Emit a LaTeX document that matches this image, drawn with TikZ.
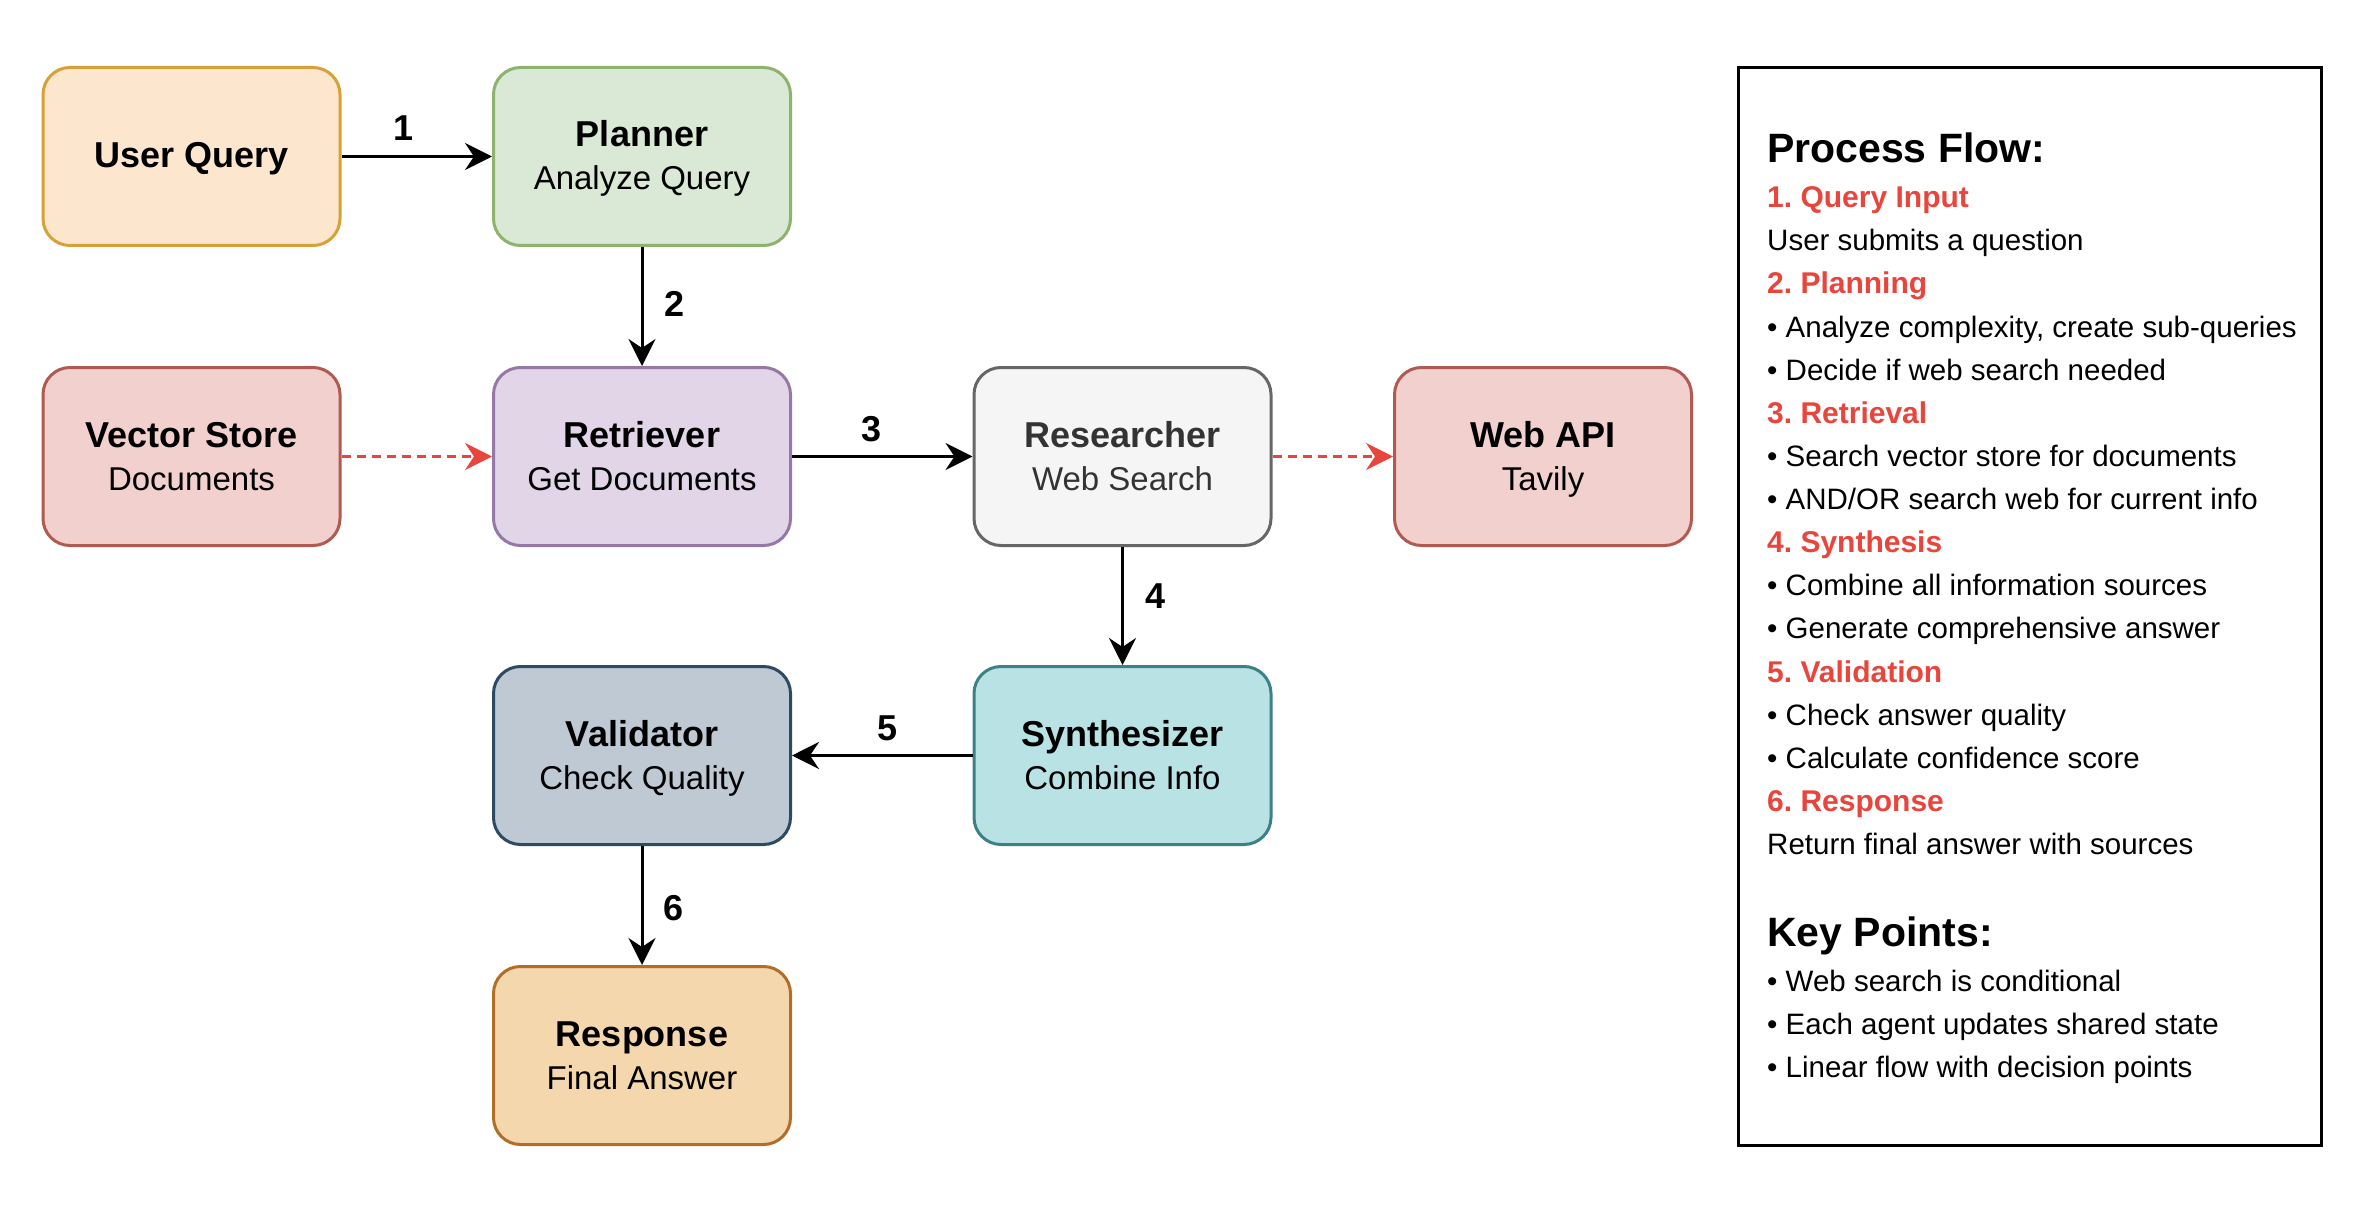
\documentclass[tikz,border=0pt]{standalone}
\usepackage{fontspec}
\setmainfont{Liberation Sans}
\usetikzlibrary{arrows.meta}
\frenchspacing
\definecolor{uqF}{HTML}{FCE6CE}\definecolor{uqD}{HTML}{D6A136}
\definecolor{plF}{HTML}{DAE8D6}\definecolor{plD}{HTML}{8DB36E}
\definecolor{vsF}{HTML}{F2D0CE}\definecolor{vsD}{HTML}{B05A52}
\definecolor{rtF}{HTML}{E1D5E7}\definecolor{rtD}{HTML}{9678A8}
\definecolor{rsF}{HTML}{F5F5F5}\definecolor{rsD}{HTML}{666666}
\definecolor{rsT}{HTML}{333333}
\definecolor{vaF}{HTML}{BEC9D3}\definecolor{vaD}{HTML}{2E4A62}
\definecolor{syF}{HTML}{B9E2E4}\definecolor{syD}{HTML}{3C8186}
\definecolor{rpF}{HTML}{F5D7AE}\definecolor{rpD}{HTML}{B26D27}
\definecolor{flowred}{HTML}{E8453C}
\begin{document}
\frenchspacing
\begin{tikzpicture}[x=1pt,y=-1pt,
  box/.style={rounded corners=27pt, line width=3pt, minimum width=297pt, minimum height=178pt, inner sep=0pt},
  ttl/.style={font=\fontsize{36}{40}\selectfont\bfseries, inner sep=0pt, anchor=base},
  sub/.style={font=\fontsize{33}{38}\selectfont, inner sep=0pt, anchor=base},
  num/.style={font=\fontsize{36}{40}\selectfont\bfseries, inner sep=0pt, anchor=base},
  arr/.style={line width=3pt, -{Stealth[length=27pt,width=27pt,inset=9pt]}},
  darr/.style={line width=3pt, draw=flowred, dash pattern=on 9pt off 6pt, -{Stealth[length=27pt,width=27pt,inset=9pt,fill=flowred]}},
  phead/.style={font=\fontsize{41}{46}\selectfont\bfseries, inner sep=0pt, anchor=base west},
  pred/.style={font=\fontsize{30}{34}\selectfont\bfseries\frenchspacing, text=flowred, inner sep=0pt, anchor=base west},
  pbody/.style={font=\fontsize{29.5}{34}\selectfont, inner sep=0pt, anchor=base west}
]
\useasboundingbox (0,0) rectangle (2370,1209);
\fill[white] (0,0) rectangle (2370,1209);

% boxes
\node[box, fill=uqF, draw=uqD] (uq) at (191.5,156.5) {};
\node[box, fill=plF, draw=plD] (pl) at (642,156.5) {};
\node[box, fill=vsF, draw=vsD] (vs) at (191.5,456.5) {};
\node[box, fill=rtF, draw=rtD] (rt) at (642,456.5) {};
\node[box, fill=rsF, draw=rsD] (rs) at (1122.5,456.5) {};
\node[box, fill=vsF, draw=vsD] (wa) at (1543,456.5) {};
\node[box, fill=vaF, draw=vaD] (va) at (642,755.5) {};
\node[box, fill=syF, draw=syD] (sy) at (1122.5,755.5) {};
\node[box, fill=rpF, draw=rpD] (rp) at (642,1055.5) {};

% box texts
\node[ttl] (uq-t) at (191.5,168) {User Query};
\node[ttl] (pl-t) at (642,147) {Planner};
\node[sub] (pl-s) at (642,190) {Analyze Query};
\node[ttl] (vs-t) at (191.5,447) {Vector Store};
\node[sub] (vs-s) at (191.5,490) {Documents};
\node[ttl] (rt-t) at (642,447) {Retriever};
\node[sub] (rt-s) at (642,490) {Get Documents};
\node[ttl, text=rsT] (rs-t) at (1122.5,447) {Researcher};
\node[sub, text=rsT] (rs-s) at (1122.5,490) {Web Search};
\node[ttl] (wa-t) at (1543,447) {Web API};
\node[sub] (wa-s) at (1543,490) {Tavily};
\node[ttl] (va-t) at (642,746) {Validator};
\node[sub] (va-s) at (642,789) {Check Quality};
\node[ttl] (sy-t) at (1122.5,746) {Synthesizer};
\node[sub] (sy-s) at (1122.5,789) {Combine Info};
\node[ttl] (rp-t) at (642,1046) {Response};
\node[sub] (rp-s) at (642,1089) {Final Answer};

% connectors
\draw[arr] (uq) -- (pl);
\draw[arr] (pl) -- (rt);
\draw[arr] (rt) -- (rs);
\draw[arr] (rs) -- (sy);
\draw[arr] (sy) -- (va);
\draw[arr] (va) -- (rp);
\draw[darr] (vs) -- (rt);
\draw[darr] (rs) -- (wa);

% step numbers
\node[num] (n1) at (404,141) {1};
\node[num] (n2) at (675,316) {2};
\node[num] (n3) at (872,441) {3};
\node[num] (n4) at (1155,608) {4};
\node[num] (n5) at (888,740) {5};
\node[num] (n6) at (674,920) {6};

% panel
\node[draw, line width=3pt, minimum width=583pt, minimum height=1078pt, inner sep=0pt] (panel) at (2030,606.5) {};
\node[phead] (p0) at (1767,163) {Process Flow:};
\node[pred]  (p1) at (1767,208) {1.\ Query Input};
\node[pbody] (p2) at (1767,251) {User submits a question};
\node[pred]  (p3) at (1767,294) {2.\ Planning};
\node[pbody] (p4) at (1767,337) {• Analyze complexity, create sub-queries};
\node[pbody] (p5) at (1767,380) {• Decide if web search needed};
\node[pred]  (p6) at (1767,423) {3.\ Retrieval};
\node[pbody] (p7) at (1767,466) {• Search vector store for documents};
\node[pbody] (p8) at (1767,509) {• AND/OR search web for current info};
\node[pred]  (p9) at (1767,552) {4.\ Synthesis};
\node[pbody] (p10) at (1767,595) {• Combine all information sources};
\node[pbody] (p11) at (1767,638) {• Generate comprehensive answer};
\node[pred]  (p12) at (1767,682) {5.\ Validation};
\node[pbody] (p13) at (1767,725) {• Check answer quality};
\node[pbody] (p14) at (1767,768) {• Calculate confidence score};
\node[pred]  (p15) at (1767,811) {6.\ Response};
\node[pbody] (p16) at (1767,854) {Return final answer with sources};
\node[phead] (k0) at (1767,946) {Key Points:};
\node[pbody] (k1) at (1767,991) {• Web search is conditional};
\node[pbody] (k2) at (1767,1034) {• Each agent updates shared state};
\node[pbody] (k3) at (1767,1077) {• Linear flow with decision points};
\end{tikzpicture}
\end{document}
